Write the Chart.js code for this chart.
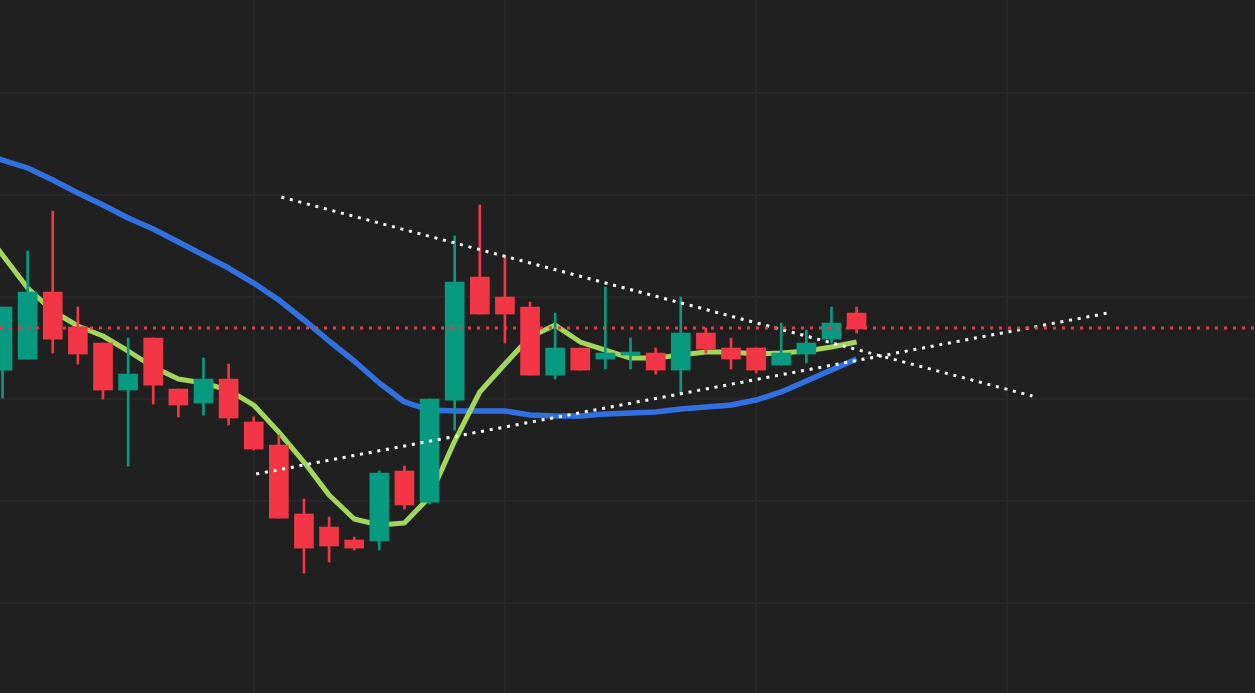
<!DOCTYPE html>
<html>
<head>
<meta charset="utf-8">
<script src="https://cdn.jsdelivr.net/npm/chart.js@4/dist/chart.umd.min.js"></script>
<style>
  html, body { margin: 0; padding: 0; background: #202020; overflow: hidden; }
  canvas { display: block; }
</style>
</head>
<body>
<canvas id="chart" width="1255" height="693"></canvas>
<script>
// candles (index 0..34)
const opens  = [42.84, 43.92, 50.49, 47.06, 45.49, 40.88, 45.98, 40.98, 39.61, 41.96,
                37.75, 35.49, 28.73, 27.45, 26.18, 26.08, 32.94, 29.90, 39.90, 51.96,
                50.00, 49.02, 42.35, 45.00, 43.92, 44.31, 44.51, 42.84, 46.47, 45.00,
                45.00, 43.33, 44.41, 45.88, 48.43];
const highs  = [49.02, 54.51, 58.43, 49.02, 45.49, 45.98, 45.98, 40.98, 44.02, 43.43,
                38.24, 36.47, 30.20, 28.43, 26.47, 32.94, 33.43, 40.00, 55.98, 59.02,
                54.02, 49.51, 48.43, 45.00, 50.98, 45.98, 45.00, 50.00, 46.96, 45.98,
                45.00, 47.45, 46.76, 49.02, 49.02];
const lows   = [40.10, 43.92, 44.51, 43.43, 40.00, 33.43, 39.51, 38.24, 38.43, 37.45,
                35.00, 28.33, 22.94, 24.02, 25.20, 25.20, 29.22, 29.71, 36.96, 48.33,
                45.49, 42.35, 41.96, 42.84, 42.94, 42.94, 42.45, 40.49, 44.51, 42.94,
                42.55, 43.33, 43.53, 45.49, 46.47];
const closes = [49.02, 50.49, 45.88, 44.41, 40.88, 42.45, 41.37, 39.41, 41.96, 38.14,
                35.10, 28.33, 25.39, 25.59, 25.39, 32.75, 29.61, 40.00, 51.47, 48.33,
                48.33, 42.35, 45.00, 42.84, 44.51, 44.61, 42.84, 46.47, 44.90, 43.92,
                42.84, 44.51, 45.49, 47.45, 46.86];

// moving averages, starting one bar before the first visible candle (index -1)
const maFast = [57.35, 54.12, 50.88, 48.63, 47.16, 46.18, 44.71, 43.14, 41.96, 41.57,
                40.88, 39.41, 36.76, 33.82, 30.59, 28.24, 27.65, 27.84, 30.39, 35.88,
                40.69, 43.43, 46.08, 47.25, 45.59, 44.80, 44.02, 44.02, 44.31, 44.61,
                44.61, 44.41, 44.51, 44.71, 45.10, 45.59];
const maSlow = [64.22, 63.43, 62.65, 61.47, 60.20, 59.02, 57.75, 56.67, 55.39, 54.12,
                52.84, 51.37, 49.71, 47.75, 45.69, 43.73, 41.57, 39.71, 38.92, 38.82,
                38.82, 38.82, 38.43, 38.33, 38.33, 38.53, 38.63, 38.73, 39.02, 39.22,
                39.41, 39.90, 40.69, 41.76, 42.84, 43.92];

// drawn trend lines [x, y]
const trendUpper = [[11.1, 59.80], [41, 40.29]];
const trendLower = [[10.1, 32.65], [44, 48.43]];
const levelPrice = 46.96;

// grid positions
const xGridTicks = [10, 20, 30, 40];
const yGridTicks = [20, 30, 40, 50, 60, 70];

const X_MIN = -0.1, X_MAX = 49.86;
const Y_MIN = 11.18, Y_MAX = 79.12;

const UP = '#089981', DOWN = '#f23645';
const GRID = '#272727';

const candleColors = opens.map((o, i) => closes[i] >= o ? UP : DOWN);
const bodies = opens.map((o, i) => ({ x: i, y: [o, closes[i]] }));
const wicks = opens.map((o, i) => ({ x: i, y: [lows[i], highs[i]] }));
const toPts = arr => arr.map((v, i) => ({ x: i - 1, y: v }));
const pairPts = arr => arr.map(p => ({ x: p[0], y: p[1] }));

new Chart(document.getElementById('chart'), {
    type: 'bar',
    data: {
        datasets: [
            { type: 'line', data: [{ x: X_MIN, y: levelPrice }, { x: X_MAX, y: levelPrice }],
              borderColor: DOWN, borderWidth: 3, borderDash: [3, 6], pointRadius: 0, order: -2 },
            { type: 'line', data: pairPts(trendUpper), borderColor: '#ffffff', borderWidth: 3,
              borderDash: [3, 5.8], pointRadius: 0, order: -1 },
            { type: 'line', data: pairPts(trendLower), borderColor: '#ffffff', borderWidth: 3,
              borderDash: [3, 5.8], pointRadius: 0, order: -1 },
            { data: wicks, backgroundColor: candleColors, barThickness: 2, grouped: false,
              borderWidth: 0, order: 1 },
            { data: bodies, backgroundColor: candleColors, barThickness: 19, grouped: false,
              borderWidth: 0, minBarLength: 2, order: 0 },
            { type: 'line', data: toPts(maFast), borderColor: '#a3d65a', borderWidth: 5,
              pointRadius: 0, tension: 0, borderJoinStyle: 'round', order: 3 },
            { type: 'line', data: toPts(maSlow), borderColor: '#3170e0', borderWidth: 5.5,
              pointRadius: 0, tension: 0, borderJoinStyle: 'round', order: 4 }
        ]
    },
    options: {
        responsive: false,
        animation: false,
        devicePixelRatio: 1,
        layout: { padding: 0 },
        plugins: { legend: { display: false }, tooltip: { enabled: false } },
        scales: {
            x: {
                type: 'linear', min: X_MIN, max: X_MAX, offset: false,
                afterBuildTicks: scale => { scale.ticks = xGridTicks.map(v => ({ value: v })); },
                ticks: { display: false },
                grid: { color: GRID, lineWidth: 2, drawTicks: false, offset: false },
                border: { display: false }
            },
            y: {
                min: Y_MIN, max: Y_MAX,
                afterBuildTicks: scale => { scale.ticks = yGridTicks.map(v => ({ value: v })); },
                ticks: { display: false },
                grid: { color: GRID, lineWidth: 2, drawTicks: false },
                border: { display: false }
            }
        }
    }
});
</script>
</body>
</html>
